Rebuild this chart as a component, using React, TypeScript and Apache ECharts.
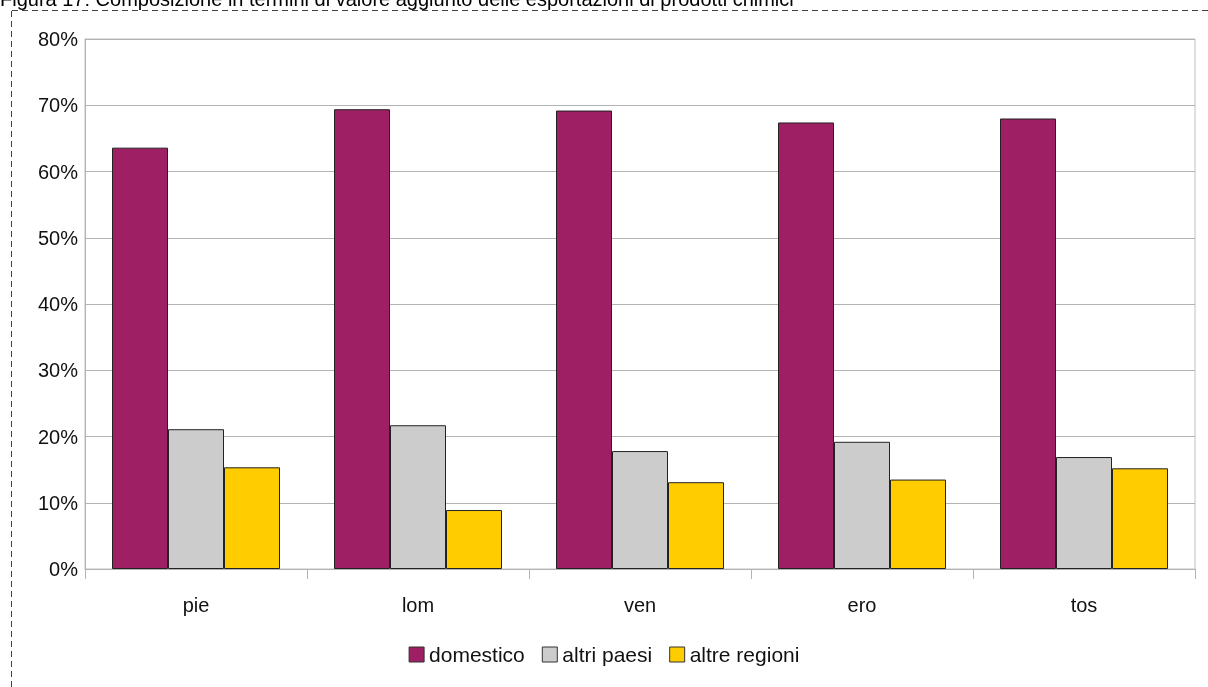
import React, { useEffect, useRef } from "react";
import * as echarts from "echarts";

const categories = ["pie", "lom", "ven", "ero", "tos"];
const seriesNames = ["domestico", "altri paesi", "altre regioni"];
const domestico = [63.6, 69.4, 69.2, 67.4, 68.0];
const altriPaesi = [21.1, 21.7, 17.8, 19.2, 16.9];
const altreRegioni = [15.35, 8.9, 13.1, 13.5, 15.2];
const colors = ["#9e1f63", "#cccccc", "#ffcc00"];
const titleText =
  "Figura 17: Composizione in termini di valore aggiunto delle esportazioni di prodotti chimici";

const FONT = "'Liberation Sans', Arial, sans-serif";

export default function App() {
  const ref = useRef<HTMLDivElement>(null);
  useEffect(() => {
    if (!ref.current) return;
    const chart = echarts.init(ref.current, undefined, { renderer: "svg" });
    const values = [domestico, altriPaesi, altreRegioni];
    chart.setOption({
      animation: false,
      textStyle: { fontFamily: FONT },
      grid: {
        left: 85,
        right: 13,
        top: 39,
        bottom: 118,
        show: true,
        borderColor: "#c0c0c0",
        borderWidth: 1,
        backgroundColor: "transparent",
      },
      graphic: [
        {
          type: "text",
          left: 0,
          top: -11,
          style: { text: titleText, font: `20px ${FONT}`, fill: "#000" },
        },
        {
          type: "line",
          shape: { x1: 12, y1: 10.5, x2: 1208, y2: 10.5 },
          style: { stroke: "#444", lineWidth: 1, lineDash: [6, 4] },
        },
        {
          type: "line",
          shape: { x1: 11.5, y1: 11, x2: 11.5, y2: 687 },
          style: { stroke: "#444", lineWidth: 1, lineDash: [6, 4] },
        },
      ],
      legend: {
        data: seriesNames,
        bottom: 17,
        left: "center",
        itemWidth: 15,
        itemHeight: 15,
        itemGap: 17,
        icon: "rect",
        textStyle: { fontSize: 21, color: "#111", fontFamily: FONT },
        itemStyle: { borderColor: "#333", borderWidth: 1 },
      },
      xAxis: {
        type: "category",
        data: categories,
        axisLine: { lineStyle: { color: "#b3b3b3", width: 1 } },
        axisTick: { show: true, length: 10, lineStyle: { color: "#b3b3b3" } },
        axisLabel: { fontSize: 20, color: "#111", margin: 26, fontFamily: FONT },
      },
      yAxis: {
        type: "value",
        min: 0,
        max: 80,
        interval: 10,
        axisLine: { show: true, lineStyle: { color: "#b3b3b3", width: 1 } },
        axisTick: { show: false },
        axisLabel: {
          fontSize: 20,
          color: "#111",
          margin: 7,
          formatter: "{value}%",
          fontFamily: FONT,
        },
        splitLine: { lineStyle: { color: "#b3b3b3", width: 1 } },
      },
      series: seriesNames.map((name, i) => ({
        name,
        type: "bar",
        data: values[i],
        barWidth: 56,
        barGap: "0%",
        itemStyle: { color: colors[i], borderColor: "#222", borderWidth: 1 },
      })),
    });
    return () => chart.dispose();
  }, []);
  return (
    <div
      ref={ref}
      style={{ position: "fixed", left: 0, top: 0, width: 1208, height: 687 }}
    />
  );
}
